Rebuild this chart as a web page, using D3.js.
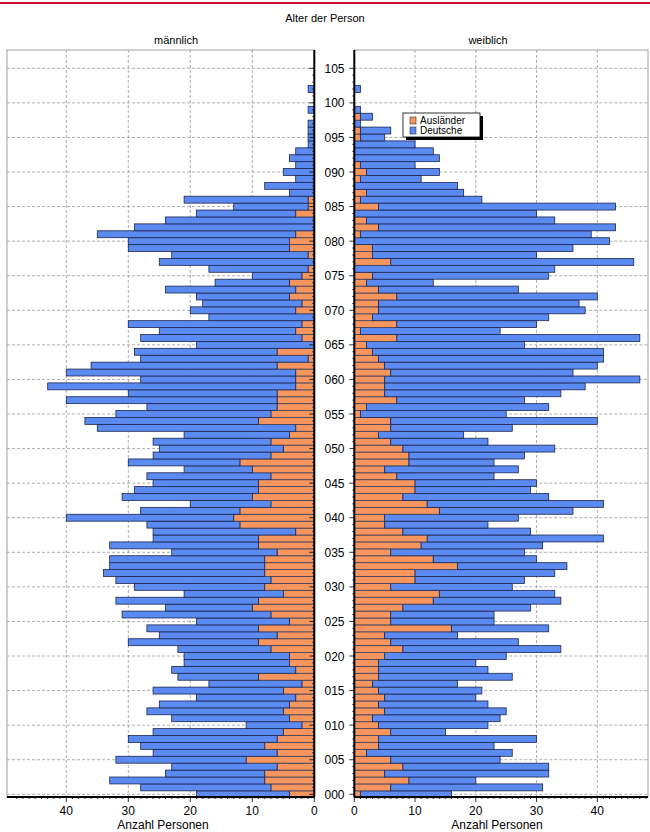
<!DOCTYPE html>
<html><head><meta charset="utf-8">
<script src="https://cdn.jsdelivr.net/npm/d3@7"></script>
<style>body{margin:0;background:#fff;font-family:Arial,"Liberation Sans",sans-serif}</style>
</head><body><svg id="c" width="650" height="832"></svg>
<script>
// ages 0..105
const ages = d3.range(0,106);
// male totals (index = age) and male Ausländer
const maleTotal = [19,28,33,24,23,32,26,28,30,26,11,23,27,25,19,26,17,22,23,21,21,22,30,25,27,19,31,24,32,21,29,32,34,33,33,23,33,26,26,27,40,28,20,31,29,26,27,21,30,26,25,26,21,35,37,32,27,40,30,43,28,40,36,28,29,19,28,25,30,17,20,18,19,24,16,10,17,25,23,30,30,35,29,24,19,13,21,4,8,3,5,3,4,3,1,1,1,1,0,1,0,0,1,0,0,0];
const maleAusl  = [4,7,8,8,6,11,6,8,6,5,2,4,5,4,3,5,2,9,3,4,4,7,9,6,9,4,7,10,9,5,8,7,8,8,8,6,9,9,3,12,13,12,7,10,9,9,7,10,12,7,5,7,4,3,9,7,6,6,6,3,3,3,6,1,6,0,2,3,2,0,3,2,4,3,4,2,1,0,1,4,4,3,0,0,3,1,1,0,0,0,0,0,0,0,0,0,0,0,0,0,0,0,0,0,0,0];
const femTotal  = [16,31,20,32,32,24,26,23,30,15,22,24,25,22,20,21,17,26,22,20,25,34,27,17,32,23,23,29,34,33,26,28,33,35,30,28,31,41,29,22,27,36,41,32,29,30,23,27,23,28,33,22,18,26,40,25,32,28,34,38,47,36,40,41,41,28,47,24,30,32,38,37,40,27,13,32,33,46,30,36,42,39,43,33,30,43,21,18,17,11,14,10,14,13,10,5,6,1,3,1,0,0,1,0,0,0];
const femAusl   = [1,6,9,5,8,6,2,4,4,6,4,3,5,4,5,4,3,4,4,4,5,8,6,5,16,6,6,8,13,14,6,10,10,17,13,6,11,12,8,5,5,14,12,8,10,10,7,5,9,9,8,6,4,6,6,1,2,7,5,5,5,6,5,4,3,2,7,1,7,3,4,4,7,4,2,3,0,6,3,3,0,1,4,2,0,4,1,2,0,1,2,1,0,0,0,1,1,0,1,0,0,0,0,0,0,0];
const yTicks = d3.range(0,106,5);
const xTicks = [0,10,20,30,40];
const seriesNames = ["Ausländer","Deutsche"];
const colors = {"Ausländer":"#f7955e","Deutsche":"#5b8bf0"};

const svg = d3.select("#c");
svg.append("rect").attr("x",0).attr("y",2).attr("width",650).attr("height",2).attr("fill","#c8102e");
svg.append("text").attr("x",325).attr("y",22).attr("text-anchor","middle").attr("font-size",11).text("Alter der Person");
svg.append("text").attr("x",176).attr("y",44).attr("text-anchor","middle").attr("font-size",11).text("männlich");
svg.append("text").attr("x",488).attr("y",44).attr("text-anchor","middle").attr("font-size",11).text("weiblich");

const pTop=50, pBottom=797;
const y = d3.scaleLinear().domain([0,105]).range([794.3,68.3]);
const bh = 6.914;
const xL = d3.scaleLinear().domain([0,40]).range([314.3,66.3]);
const xR = d3.scaleLinear().domain([0,40]).range([354.3,597.3]);

function panel(x, x0, x1, tot, aus, labelX){
  const g = svg.append("g");
  g.append("rect").attr("x",Math.min(x0,x1)).attr("y",pTop).attr("width",Math.abs(x1-x0)).attr("height",pBottom-pTop).attr("fill","none").attr("stroke","#888").attr("stroke-width",0.8);
  xTicks.slice(1).forEach(t=>g.append("line").attr("x1",x(t)).attr("x2",x(t)).attr("y1",pTop).attr("y2",pBottom).attr("stroke","#999").attr("stroke-dasharray","3,2").attr("stroke-width",0.8));
  yTicks.forEach(t=>g.append("line").attr("x1",x0).attr("x2",x1).attr("y1",y(t)).attr("y2",y(t)).attr("stroke","#999").attr("stroke-dasharray","3,2").attr("stroke-width",0.8));
  ages.forEach(a=>{
    if(tot[a]<=0) return;
    const yy = y(a)-bh/2;
    const A = aus[a], T = tot[a];
    if(A>0) g.append("rect").attr("x",Math.min(x(0),x(A))).attr("y",yy).attr("width",Math.abs(x(A)-x(0))).attr("height",bh).attr("fill",colors["Ausländer"]).attr("stroke","#3a3f5c").attr("stroke-width",0.8);
    if(T>A) g.append("rect").attr("x",Math.min(x(A),x(T))).attr("y",yy).attr("width",Math.abs(x(T)-x(A))).attr("height",bh).attr("fill",colors["Deutsche"]).attr("stroke","#1b2550").attr("stroke-width",0.8);
  });
  g.append("line").attr("x1",x(0)).attr("x2",x(0)).attr("y1",pTop).attr("y2",pBottom).attr("stroke","#000").attr("stroke-width",2);
  g.append("line").attr("x1",x0).attr("x2",x1).attr("y1",pBottom).attr("y2",pBottom).attr("stroke","#000").attr("stroke-width",2);
  d3.range(0,49).forEach(t=>{ const px=x(t); if((px-x0)*(px-x1)<=0) g.append("line").attr("x1",px).attr("x2",px).attr("y1",pBottom).attr("y2",pBottom+(t%10==0?5:2)).attr("stroke","#000").attr("stroke-width",0.8);});
  xTicks.forEach(t=>g.append("text").attr("x",x(t)).attr("y",815).attr("text-anchor","middle").attr("font-size",12).text(t));
  g.append("text").attr("x",labelX).attr("y",829).attr("text-anchor","middle").attr("font-size",12).text("Anzahl Personen");
  const dir = x0<x1?1:-1;
  ages.forEach(a=>g.append("line").attr("x1",x(0)).attr("x2",x(0)-dir*(a%5==0?5:2)).attr("y1",y(a)).attr("y2",y(a)).attr("stroke","#000").attr("stroke-width",0.8));
}
panel(xL, 7, 314.3, maleTotal, maleAusl, 163);
panel(xR, 354.3, 648, femTotal, femAusl, 497);

yTicks.forEach(t=>svg.append("text").attr("x",334.5).attr("y",y(t)+4.5).attr("text-anchor","middle").attr("font-size",12).text(d3.format("03d")(t)));

const lg = svg.append("g").attr("transform","translate(403,113)");
lg.append("rect").attr("x",3).attr("y",3).attr("width",77).attr("height",24).attr("fill","#000");
lg.append("rect").attr("x",0).attr("y",0).attr("width",77).attr("height",24).attr("fill","#fff").attr("stroke","#000").attr("stroke-width",0.8);
seriesNames.forEach((n,i)=>{
  lg.append("rect").attr("x",7).attr("y",4+i*10).attr("width",6).attr("height",7).attr("fill",colors[n]).attr("stroke","#333").attr("stroke-width",0.6);
  lg.append("text").attr("x",17).attr("y",11+i*10).attr("font-size",10).text(n);
});
</script></body></html>
